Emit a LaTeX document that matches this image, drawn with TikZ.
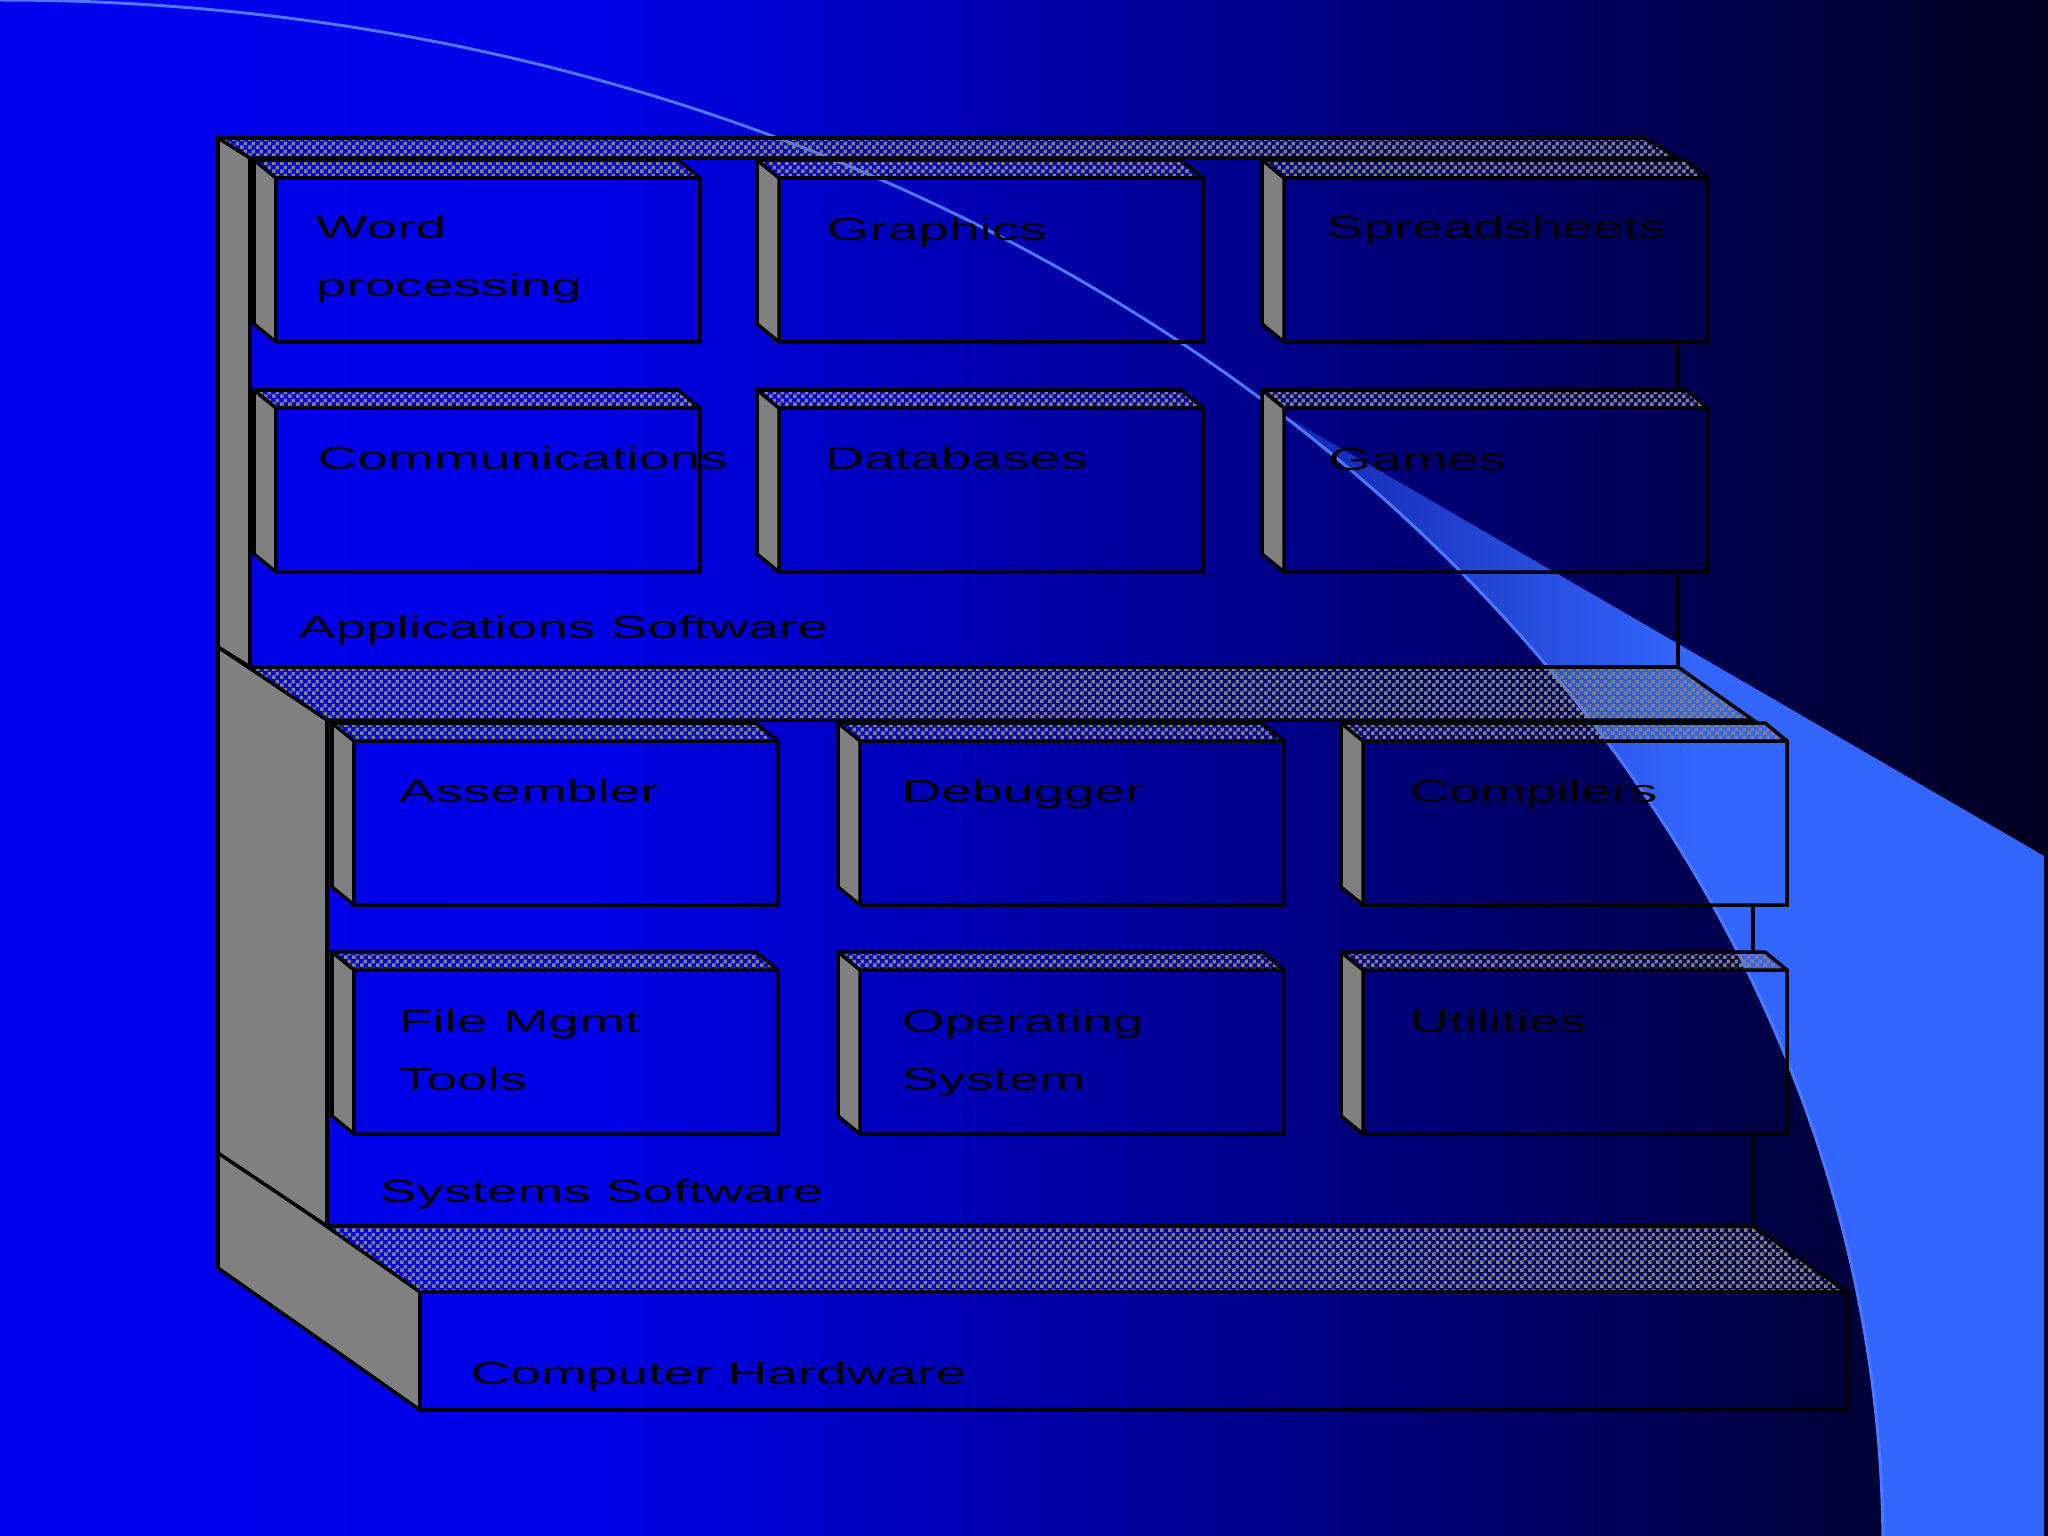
\documentclass[tikz,border=0pt]{standalone}
\usepackage{fontspec}
\setmainfont{Liberation Sans}
\usepackage{graphicx}
\usetikzlibrary{patterns}

\definecolor{bgA}{RGB}{0,0,236}
\definecolor{bgB}{RGB}{0,0,230}
\definecolor{bgC}{RGB}{0,0,30}
\definecolor{lite}{RGB}{51,102,255}
\definecolor{wA}{RGB}{18,36,178}
\definecolor{wB}{RGB}{36,71,212}
\definecolor{liteline}{RGB}{75,120,255}
\definecolor{sidegray}{RGB}{128,128,128}

\pgfdeclarehorizontalshading{bgshade}{100bp}{color(0bp)=(bgA); color(25bp)=(bgA); color(39.6bp)=(bgB); color(75bp)=(bgC); color(100bp)=(bgC)}
\pgfdeclarehorizontalshading{wedgeshade}{100bp}{color(0bp)=(wA); color(25bp)=(wA); color(39bp)=(wB); color(52bp)=(lite); color(100bp)=(lite)}

\pgfdeclarepatternformonly{finechk}{\pgfpointorigin}{\pgfpoint{2.28pt}{2.28pt}}{\pgfpoint{2.28pt}{2.28pt}}{%
  \pgfpathrectangle{\pgfpointorigin}{\pgfpoint{1.14pt}{1.14pt}}%
  \pgfpathrectangle{\pgfpoint{1.14pt}{1.14pt}}{\pgfpoint{1.14pt}{1.14pt}}%
  \pgfusepath{fill}}

\tikzset{
  edge/.style={draw=black, line width=1pt, line join=miter},
  sideface/.style={fill=sidegray},
  chk/.style={pattern=finechk, pattern color=sidegray},
  lbl/.style={inner sep=0pt, anchor=base west, text=black, font=\fontsize{9.1}{16.5}\selectfont},
}

\newcommand\wide[1]{\scalebox{1.72}[1]{#1}}
\newcommand\twoline[2]{\wide{\begin{tabular}[t]{@{}l@{}}#1\\#2\end{tabular}}}

% inner box: front-left x, front-top y
\newcommand\swbox[2]{%
  \fill[sideface] ({#1-22},{#2-18}) -- (#1,#2) -- (#1,{#2+164}) -- ({#1-22},{#2+146}) -- cycle;
  \fill[chk] ({#1-22},{#2-18}) -- ({#1+402},{#2-18}) -- ({#1+424},#2) -- (#1,#2) -- cycle;
  \draw[edge] ({#1-22},{#2-18}) -- ({#1+402},{#2-18}) -- ({#1+424},#2) -- ({#1+424},{#2+164}) -- (#1,{#2+164}) -- ({#1-22},{#2+146}) -- cycle;
  \draw[edge] ({#1-22},{#2-18}) -- (#1,#2) -- ({#1+424},#2) (#1,#2) -- (#1,{#2+164});
}

\begin{document}
\begin{tikzpicture}[x=0.01cm, y=-0.01cm]
\useasboundingbox (0,0) rectangle (2048,1536);
% background
\shade[shading=bgshade] (0,0) rectangle (2048,1536);
% light wedge (lower edge is an elliptical arc centred at (0,1550))
\shade[shading=wedgeshade] (1280,413) arc[start angle=-47.18, end angle=0, x radius=1883, y radius=1550] -- (2044,1550) -- (2044,856) -- cycle;
\draw[liteline, line width=0.85pt] (0,0) arc[start angle=-90, end angle=0, x radius=1883, y radius=1550];

% ---- Computer Hardware layer
\fill[sideface] (218,1150) -- (420,1292) -- (420,1410) -- (218,1268) -- cycle;
\fill[chk] (327,1226) -- (1753,1226) -- (1847,1292) -- (420,1292) -- cycle;
\draw[edge] (218,1150) -- (420,1292) -- (420,1410) -- (218,1268) -- cycle;
\draw[edge] (1753,1226) -- (1847,1292) -- (420,1292);
\draw[edge] (420,1292) rectangle (1847,1410);

% ---- Systems Software layer
\fill[sideface] (218,647) -- (327,720) -- (327,1226) -- (218,1153) -- cycle;
\fill[chk] (250,667) -- (1678,667) -- (1753,720) -- (327,720) -- cycle;
\draw[edge] (218,647) -- (327,720) -- (327,1226) -- (218,1153) -- cycle;
\draw[edge] (1678,667) -- (1753,720) -- (327,720);
\draw[edge] (327,1226) -- (1753,1226);
\draw[edge] (1753,720) -- (1753,724) (1753,904) -- (1753,953) (1753,1133) -- (1753,1226);

% ---- Applications Software layer
\fill[sideface] (218,138) -- (250,158) -- (250,667) -- (218,647) -- cycle;
\fill[chk] (218,138) -- (1645,138) -- (1678,158) -- (250,158) -- cycle;
\draw[edge] (218,138) -- (250,158) -- (250,667) -- (218,647) -- cycle;
\draw[edge] (218,138) -- (1645,138) -- (1678,158) -- (250,158);
\draw[edge] (250,667) -- (1678,667);
\draw[edge] (1678,341) -- (1678,391) (1678,571) -- (1678,667);

% ---- inner boxes
\swbox{276}{178}
\swbox{779}{178}
\swbox{1284}{178}
\swbox{276}{408}
\swbox{779}{408}
\swbox{1284}{408}
\swbox{354}{741}
\swbox{860}{741}
\swbox{1363}{741}
\swbox{354}{970}
\swbox{860}{970}
\swbox{1363}{970}

% ---- labels
\node[lbl] (wp)   at (315,238)  {\twoline{Word}{processing}};
\node[lbl] (gr)   at (826,240)  {\wide{Graphics}};
\node[lbl] (ss)   at (1326,238) {\wide{Spreadsheets}};
\node[lbl] (cm)   at (317,469)  {\wide{Communications}};
\node[lbl] (db)   at (824,469)  {\wide{Databases}};
\node[lbl] (gm)   at (1328,470) {\wide{Games}};
\node[lbl] (apps) at (298,638)  {\wide{Applications Software}};
\node[lbl] (as)   at (398,802)  {\wide{Assembler}};
\node[lbl] (dg)   at (901,802)  {\wide{Debugger}};
\node[lbl] (co)   at (1409,802) {\wide{Compilers}};
\node[lbl] (fm)   at (398,1032) {\twoline{File Mgmt}{Tools}};
\node[lbl] (os)   at (901,1032) {\twoline{Operating}{System}};
\node[lbl] (ut)   at (1409,1032) {\wide{Utilities}};
\node[lbl] (sys)  at (379,1202) {\wide{Systems Software}};
\node[lbl] (hw)   at (470,1384) {\wide{Computer Hardware}};
\end{tikzpicture}
\end{document}
